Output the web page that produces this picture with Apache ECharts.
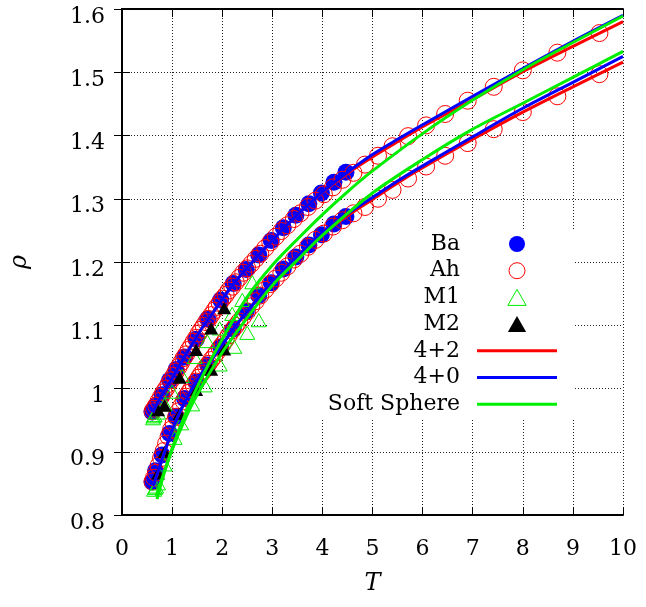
<!DOCTYPE html>
<html>
<head>
<meta charset="utf-8">
<script src="https://cdn.jsdelivr.net/npm/echarts@6/dist/echarts.min.js"></script>
<style>
  html, body { margin: 0; padding: 0; background: #fff; }
  #chart { width: 646px; height: 607px; }
</style>
</head>
<body>
<div id="chart"></div>
<script>
// Melting line of the Lennard-Jones system: solid (upper) and liquid (lower) branches

// Ba: filled circles
const baT      = [4.47, 4.23, 3.98, 3.73, 3.47, 3.22, 2.98, 2.73, 2.48, 2.22, 1.97, 1.71, 1.48, 1.25, 1.08, 0.95, 0.80, 0.67, 0.60];
const baSolid  = [1.342, 1.326, 1.309, 1.292, 1.274, 1.254, 1.234, 1.211, 1.188, 1.166, 1.140, 1.110, 1.078, 1.050, 1.030, 1.013, 0.990, 0.972, 0.963];
const baLiquid = [1.272, 1.260, 1.243, 1.227, 1.208, 1.189, 1.167, 1.147, 1.122, 1.094, 1.066, 1.037, 1.010, 0.984, 0.956, 0.929, 0.895, 0.870, 0.852];

// Ah: open circles
const ahT = [9.53, 8.69, 8.00, 7.42, 6.90, 6.45, 6.07, 5.71, 5.40, 5.11, 4.85, 4.62, 4.40, 4.21, 4.03, 3.86, 3.71, 3.56, 3.43, 3.30,
             3.18, 3.07, 2.96, 2.86, 2.76, 2.67, 2.58, 2.50, 2.42, 2.34, 2.27, 2.20, 2.13, 2.07, 2.01, 1.95, 1.89, 1.84, 1.78, 1.73,
             1.68, 1.63, 1.58, 1.53, 1.48, 1.43, 1.38, 1.33, 1.28, 1.23, 1.18, 1.13, 1.08, 1.03, 0.98, 0.93, 0.88, 0.83, 0.78, 0.73,
             0.68, 0.64, 0.61];
const ahSolid = [1.562, 1.531, 1.503, 1.477, 1.455, 1.434, 1.416, 1.399, 1.383, 1.368, 1.354, 1.341, 1.330, 1.318, 1.307, 1.297, 1.287, 1.277, 1.268, 1.258,
                 1.249, 1.240, 1.231, 1.222, 1.213, 1.205, 1.197, 1.190, 1.183, 1.175, 1.168, 1.161, 1.155, 1.148, 1.142, 1.135, 1.129, 1.123, 1.116, 1.110,
                 1.105, 1.099, 1.093, 1.087, 1.080, 1.074, 1.067, 1.061, 1.054, 1.048, 1.041, 1.034, 1.027, 1.020, 1.013, 1.007, 1.000, 0.994, 0.987, 0.980,
                 0.973, 0.968, 0.964];
const ahLiquid = [1.497, 1.462, 1.437, 1.410, 1.388, 1.368, 1.351, 1.332, 1.314, 1.300, 1.287, 1.277, 1.266, 1.256, 1.245, 1.235, 1.224, 1.213, 1.204, 1.193,
                  1.183, 1.174, 1.165, 1.156, 1.147, 1.138, 1.130, 1.122, 1.114, 1.106, 1.099, 1.092, 1.084, 1.077, 1.070, 1.064, 1.057, 1.051, 1.045, 1.039,
                  1.034, 1.028, 1.023, 1.017, 1.011, 1.005, 0.999, 0.993, 0.987, 0.980, 0.972, 0.964, 0.955, 0.945, 0.935, 0.924, 0.913, 0.901, 0.890, 0.878,
                  0.867, 0.859, 0.853];

// M1: open triangles
const m1TSolid  = [0.62, 0.63, 0.65, 0.72, 0.85, 1.00, 1.20, 1.45, 1.70, 1.95, 2.20, 2.40, 2.60];
const m1Solid   = [0.953, 0.956, 0.958, 0.962, 0.975, 0.995, 1.020, 1.050, 1.075, 1.095, 1.118, 1.140, 1.168];
const m1TLiquid = [0.64, 0.66, 0.68, 0.72, 0.85, 1.05, 1.18, 1.40, 1.65, 1.95, 2.24, 2.50, 2.73];
const m1Liquid  = [0.840, 0.843, 0.845, 0.850, 0.880, 0.922, 0.945, 0.975, 1.005, 1.038, 1.066, 1.088, 1.108];

// M2: filled triangles
const m2T      = [2.04, 1.78, 1.48, 1.15, 0.85, 0.72];
const m2Solid  = [1.127, 1.095, 1.061, 1.017, 0.973, 0.966];
const m2Liquid = [1.062, 1.030, 0.998, 0.960, 0.900, 0.866];

// Fitted curves
const fitT        = [0.62, 0.7, 0.8, 0.9, 1.0, 1.2, 1.4, 1.6, 1.8, 2.0, 2.25, 2.5, 2.75, 3.0, 3.25, 3.5, 3.75, 4.0, 4.5, 5.0, 5.5, 6.0, 7.0, 8.0, 9.0, 10.0];
const fit42Solid  = [0.962, 0.976, 0.990, 1.003, 1.016, 1.044, 1.070, 1.096, 1.118, 1.141, 1.168, 1.191, 1.213, 1.234, 1.255, 1.275, 1.293, 1.310, 1.340, 1.366, 1.390, 1.414, 1.457, 1.501, 1.541, 1.580];
const fit42Liquid = [0.846, 0.864, 0.888, 0.911, 0.934, 0.970, 1.000, 1.025, 1.047, 1.069, 1.097, 1.122, 1.146, 1.168, 1.189, 1.209, 1.227, 1.244, 1.273, 1.299, 1.325, 1.349, 1.394, 1.437, 1.477, 1.516];
const fit40Solid  = [0.962, 0.976, 0.990, 1.003, 1.016, 1.044, 1.070, 1.096, 1.118, 1.141, 1.168, 1.191, 1.213, 1.234, 1.255, 1.275, 1.293, 1.311, 1.342, 1.370, 1.394, 1.417, 1.462, 1.506, 1.549, 1.590];
const fit40Liquid = [0.846, 0.864, 0.888, 0.911, 0.934, 0.970, 1.000, 1.025, 1.047, 1.069, 1.097, 1.122, 1.146, 1.168, 1.189, 1.209, 1.228, 1.246, 1.276, 1.302, 1.328, 1.352, 1.398, 1.443, 1.484, 1.525];
const ssTSolid    = [0.70, 0.8, 1.0, 1.25, 1.5, 1.75, 2.0, 2.5, 3.0, 3.5, 4.0, 4.5, 5.0, 6.0, 7.0, 8.0, 9.0, 10.0];
const ssSolid     = [0.825, 0.855, 0.905, 0.957, 1.002, 1.042, 1.078, 1.145, 1.195, 1.236, 1.275, 1.311, 1.344, 1.403, 1.456, 1.504, 1.547, 1.589];
const ssTLiquid   = [0.68, 0.8, 1.0, 1.25, 1.5, 2.0, 2.5, 3.0, 3.5, 4.0, 5.0, 6.0, 7.0, 8.0, 9.0, 10.0];
const ssLiquid    = [0.830, 0.858, 0.903, 0.950, 0.990, 1.057, 1.112, 1.163, 1.203, 1.242, 1.309, 1.362, 1.410, 1.451, 1.492, 1.533];

const xTicks = [0, 1, 2, 3, 4, 5, 6, 7, 8, 9, 10];
const yTicks = [0.8, 0.9, 1.0, 1.1, 1.2, 1.3, 1.4, 1.5, 1.6];

const RED = '#ff0000', BLUE = '#0000ff', GREEN = '#00ee00';
const FONT = 'DejaVu Serif';
const CLEAR = 'rgba(0,0,0,0)';
const TRIANGLE = 'path://M8,0L16,14L0,14Z';
const BAR = 'path://M0,0H80V3H0Z';

const pairs = (xs, ys) => xs.map((x, i) => [x, ys[i]]);

function scatter(name, xs, ys, symbol, size, itemStyle) {
  return { name, type: 'scatter', data: pairs(xs, ys), symbol, symbolSize: size,
           symbolKeepAspect: true, itemStyle: Object.assign({ opacity: 1 }, itemStyle), z: 2 };
}
function curve(name, xs, ys, color) {
  return { name, type: 'line', data: pairs(xs, ys), smooth: 0.3, symbol: 'none',
           lineStyle: { color, width: 3 }, itemStyle: { color }, z: 3 };
}

const tickStyle = { inside: true, length: 8, lineStyle: { color: '#000', width: 1 } };
const frameLine = { lineStyle: { color: '#000', width: 2 } };
const gridLine = { show: true, lineStyle: { color: '#222', width: 1, type: [1, 2] } };

const chart = echarts.init(document.getElementById('chart'), null, { renderer: 'canvas' });
chart.setOption({
  backgroundColor: '#fff',
  animation: false,
  grid: { left: 117, right: 23, top: 9, bottom: 92 },
  graphic: [{
    type: 'rect', z: 1, silent: true,
    shape: { x: 267, y: 230, width: 307, height: 188 },
    style: { fill: '#fff' }
  }],
  legend: {
    orient: 'vertical', align: 'right', right: 89, top: 233, padding: 0,
    itemWidth: 80, itemHeight: 16, itemGap: 4.7, symbolKeepAspect: true,
    textStyle: { fontFamily: FONT, fontSize: 22, color: '#000', lineHeight: 22, padding: [0, 12, 0, 0] },
    data: [
      { name: 'Ba', icon: 'circle', itemStyle: { color: BLUE } },
      { name: 'Ah', icon: 'circle', itemStyle: { color: CLEAR, borderColor: RED, borderWidth: 1 } },
      { name: 'M1', icon: TRIANGLE, itemStyle: { color: CLEAR, borderColor: GREEN, borderWidth: 1 } },
      { name: 'M2', icon: TRIANGLE, itemStyle: { color: '#000' } },
      { name: '4+2', icon: BAR, itemStyle: { color: RED } },
      { name: '4+0', icon: BAR, itemStyle: { color: BLUE } },
      { name: 'Soft Sphere', icon: BAR, itemStyle: { color: GREEN } }
    ]
  },
  xAxis: [{
    type: 'value', min: 0, max: 10, interval: 1,
    name: 'T', nameLocation: 'middle', nameGap: 57,
    nameTextStyle: { fontFamily: FONT, fontStyle: 'italic', fontSize: 24, color: '#000' },
    axisLine: frameLine, axisTick: tickStyle,
    axisLabel: { margin: 23, fontFamily: FONT, fontSize: 22, color: '#000',
                 formatter: v => xTicks.includes(v) ? String(v) : '' },
    splitLine: gridLine
  }, {
    type: 'value', min: 0, max: 10, interval: 1, position: 'top',
    axisLine: frameLine, axisTick: tickStyle,
    axisLabel: { show: false }, splitLine: { show: false }
  }],
  yAxis: [{
    type: 'value', min: 0.8, max: 1.6, interval: 0.1,
    name: 'ρ', nameLocation: 'middle', nameGap: 90, nameRotate: 90,
    nameTextStyle: { fontFamily: FONT, fontStyle: 'italic', fontSize: 24, color: '#000' },
    axisLine: frameLine, axisTick: tickStyle,
    axisLabel: { margin: 17, fontFamily: FONT, fontSize: 22, color: '#000',
                 verticalAlign: 'top', lineHeight: 16,
                 formatter: v => {
                   const r = Math.round(v * 10) / 10;
                   return yTicks.some(t => Math.abs(t - r) < 1e-9) ? String(r) : '';
                 } },
    splitLine: gridLine
  }, {
    type: 'value', min: 0.8, max: 1.6, interval: 0.1, position: 'right',
    axisLine: frameLine, axisTick: tickStyle,
    axisLabel: { show: false }, splitLine: { show: false }
  }],
  series: [
    scatter('Ba', baT, baSolid, 'circle', 17, { color: BLUE }),
    scatter('Ba', baT, baLiquid, 'circle', 17, { color: BLUE }),
    scatter('Ah', ahT, ahSolid, 'circle', 17, { color: CLEAR, borderColor: RED, borderWidth: 1 }),
    scatter('Ah', ahT, ahLiquid, 'circle', 17, { color: CLEAR, borderColor: RED, borderWidth: 1 }),
    scatter('M1', m1TSolid, m1Solid, TRIANGLE, 15, { color: CLEAR, borderColor: GREEN, borderWidth: 1 }),
    scatter('M1', m1TLiquid, m1Liquid, TRIANGLE, 15, { color: CLEAR, borderColor: GREEN, borderWidth: 1 }),
    scatter('M2', m2T, m2Solid, TRIANGLE, 14, { color: '#000' }),
    scatter('M2', m2T, m2Liquid, TRIANGLE, 14, { color: '#000' }),
    curve('4+2', fitT, fit42Solid, RED),
    curve('4+2', fitT, fit42Liquid, RED),
    curve('4+0', fitT, fit40Solid, BLUE),
    curve('4+0', fitT, fit40Liquid, BLUE),
    curve('Soft Sphere', ssTSolid, ssSolid, GREEN),
    curve('Soft Sphere', ssTLiquid, ssLiquid, GREEN)
  ]
});
</script>
</body>
</html>
